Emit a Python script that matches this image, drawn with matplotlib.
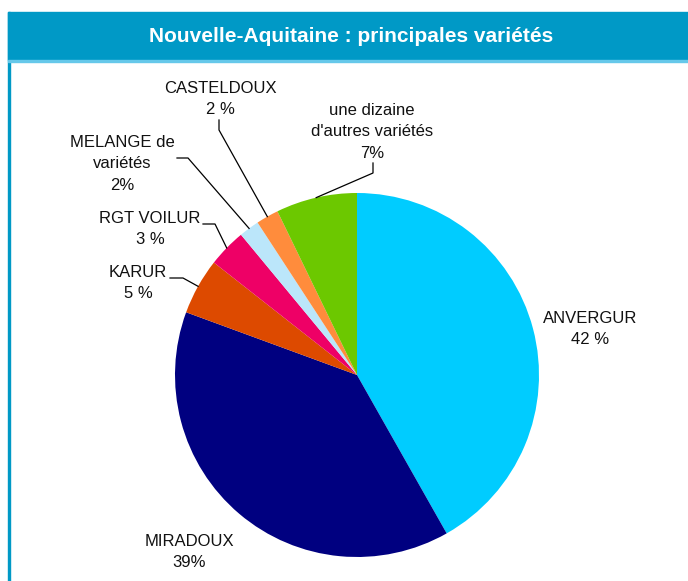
import numpy as np
import matplotlib.pyplot as plt
from matplotlib.patches import Rectangle

plt.rcParams['font.family'] = ['Liberation Sans', 'DejaVu Sans']

# parts of each variety (percent, clockwise from the top)
varietes = ['ANVERGUR', 'MIRADOUX', 'KARUR', 'RGT VOILUR',
            'MELANGE de\nvariétés', 'CASTELDOUX', "une dizaine\nd'autres variétés"]
parts = [41.8, 38.8, 5.0, 3.4, 1.8, 2.0, 7.2]
etiquettes = ['ANVERGUR\n42 %', 'MIRADOUX\n39%', 'KARUR\n5 %', 'RGT VOILUR\n3 %',
              'MELANGE de\nvariétés\n2%', 'CASTELDOUX\n2 %', "une dizaine\nd'autres variétés\n7%"]
couleurs = ['#00ccff', '#000080', '#dd4a00', '#ee0066', '#bbe6fa', '#ff8c3c', '#6cc800']

W, H = 688, 581
fig = plt.figure(figsize=(W / 100, H / 100), dpi=100)

# cadre et bandeau du titre
bleu = '#0099c6'
fig.patches.append(Rectangle((8 / W, 0), 2 / W, (H - 12) / H, transform=fig.transFigure,
                             color=bleu, zorder=0))
fig.patches.append(Rectangle((8 / W, (H - 60) / H), (W - 8) / W, 48 / H, transform=fig.transFigure,
                             color=bleu, zorder=0))
fig.patches.append(Rectangle((8 / W, (H - 61.5) / H), (W - 8) / W, 1.5 / H, transform=fig.transFigure,
                             color='#66c8ea', zorder=0))
fig.text(351 / W, (H - 36) / H, 'Nouvelle-Aquitaine : principales variétés', color='white',
         fontsize=15, fontweight='bold', ha='center', va='center')

# camembert : centre (357, 375), rayon 182 px
cx, cy, r = 357, 375, 182
ax = fig.add_axes([(cx - r) / W, (H - cy - r) / H, 2 * r / W, 2 * r / H])
wedges, _ = ax.pie(parts, colors=couleurs, startangle=90, counterclock=False, radius=1,
                   wedgeprops=dict(linewidth=0))
ax.set_xlim(-1, 1)
ax.set_ylim(-1, 1)
ax.set_aspect('equal')
ax.axis('off')


def px(x, y):
    return (x - cx) / r, (cy - y) / r


# position du texte (px), points du trait de rappel (px) ou None
textes = [(590, 329), (189, 552), (138, 283), (150, 229), (122, 164), (220, 99), (372, 132)]
rappels = [None, None, [(170, 278), (183, 278)], [(203, 224), (215, 224)],
           [(177, 158), (188, 158)], [(219, 120), (219, 130)], [(373, 163), (373, 173)]]

for w, lab, pos, rap in zip(wedges, etiquettes, textes, rappels):
    ax.text(*px(*pos), lab, ha='center', va='center', fontsize=12, color='#111111',
            linespacing=1.55, clip_on=False)
    if rap is not None:
        a = np.deg2rad((w.theta1 + w.theta2) / 2)
        pts = [px(*p) for p in rap] + [(np.cos(a), np.sin(a))]
        xs, ys = zip(*pts)
        ax.plot(xs, ys, color='black', lw=0.9, clip_on=False)

fig.savefig('out.png', dpi=100)
